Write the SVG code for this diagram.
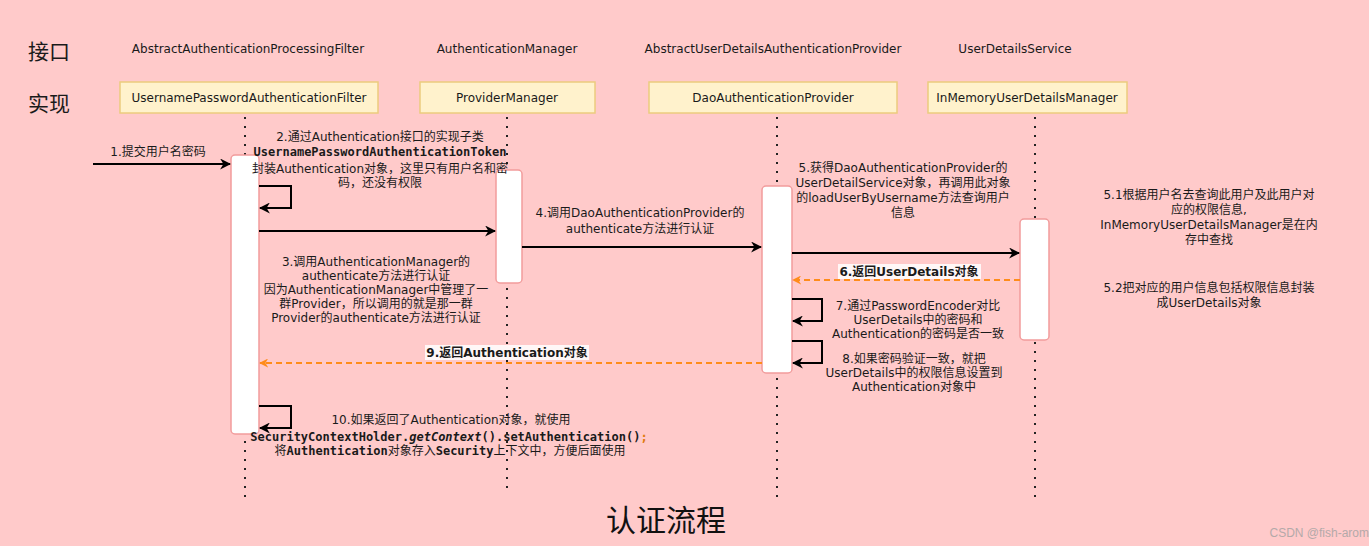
<svg xmlns="http://www.w3.org/2000/svg" width="1369" height="546" viewBox="0 0 1369 546">
<style>
.t{font-family:"DejaVu Sans","Noto Sans CJK SC",sans-serif;font-size:12px;fill:#1a1a1a;text-anchor:middle}
.m{font-family:"DejaVu Sans Mono","Noto Sans CJK SC",monospace;font-weight:bold}
.b{font-weight:bold}
.h{font-family:"Noto Sans CJK SC",sans-serif;font-size:21px;fill:#1a1a1a}
.box{fill:#fff2cc;stroke:#eccb7e;stroke-width:1.5}
.bar{fill:#ffffff;stroke:#f29c9c;stroke-width:1.5}
.life{stroke:#222;stroke-width:2;stroke-dasharray:2 7;fill:none}
.msg{stroke:#000;stroke-width:2;fill:none;marker-end:url(#ah)}
.ret{stroke:#ff8c1a;stroke-width:2;stroke-dasharray:6 4;fill:none;marker-end:url(#ao)}
.lbg{fill:#ffffff;fill-opacity:0.85}
</style>
<defs>
<marker id="ah" viewBox="0 0 10 10" refX="9" refY="5" markerWidth="11" markerHeight="11" markerUnits="userSpaceOnUse" orient="auto"><path d="M0,0 L10,5 L0,10 L3,5z" fill="#000"/></marker>
<marker id="ao" viewBox="0 0 10 10" refX="9" refY="5" markerWidth="9" markerHeight="9" markerUnits="userSpaceOnUse" orient="auto"><path d="M0,0 L10,5 L0,10 L3,5z" fill="#ff8c1a"/></marker>
</defs>
<rect x="0" y="0" width="1369" height="546" fill="#ffcaca"/>

<g id="headers">
<text class="h" x="28" y="59">接口</text>
<text class="h" x="28" y="111">实现</text>
</g>

<g id="lifelines">
<line class="life" x1="245" y1="117" x2="245" y2="497"/>
<line class="life" x1="507" y1="117" x2="507" y2="490"/>
<line class="life" x1="777" y1="117" x2="777" y2="497"/>
<line class="life" x1="1035" y1="117" x2="1035" y2="497"/>
</g>

<g id="node-filter">
<text class="t" x="248" y="53">AbstractAuthenticationProcessingFilter</text>
<rect class="box" x="120" y="82" width="258" height="31"/>
<text class="t" x="249" y="102">UsernamePasswordAuthenticationFilter</text>
<rect class="bar" x="231" y="155" width="28" height="279" rx="4"/>
</g>
<g id="node-manager">
<text class="t" x="507" y="53">AuthenticationManager</text>
<rect class="box" x="420" y="82" width="175" height="31"/>
<text class="t" x="507" y="102">ProviderManager</text>
<rect class="bar" x="496" y="170" width="26" height="113" rx="4"/>
</g>
<g id="node-provider">
<text class="t" x="773" y="53">AbstractUserDetailsAuthenticationProvider</text>
<rect class="box" x="649" y="82" width="248" height="31"/>
<text class="t" x="773" y="102">DaoAuthenticationProvider</text>
<rect class="bar" x="762" y="186" width="30" height="187" rx="4"/>
</g>
<g id="node-userdetails">
<text class="t" x="1015" y="53">UserDetailsService</text>
<rect class="box" x="928" y="82" width="199" height="31"/>
<text class="t" x="1027" y="102">InMemoryUserDetailsManager</text>
<rect class="bar" x="1020" y="219" width="29" height="121" rx="4"/>
</g>

<g id="connectors">
<path class="msg" d="M93,164 H230"/>
<path class="msg" d="M259,186 H291 V208 H260"/>
<path class="msg" d="M259,231 H495"/>
<path class="msg" d="M522,247 H761"/>
<path class="msg" d="M792,253 H1019"/>
<path class="ret" d="M1020,280 H793"/>
<path class="msg" d="M792,299 H822 V321 H793"/>
<path class="msg" d="M792,341 H822 V363 H793"/>
<path class="ret" d="M762,363 H260"/>
<path class="msg" d="M259,406 H291 V428 H260"/>
</g>

<g id="labels">
<text class="t" x="158" y="156">1.提交用户名密码</text>

<text class="t" x="380" y="141">2.通过Authentication接口的实现子类</text>
<text class="t m" x="380" y="156">UsernamePasswordAuthenticationToken</text>
<text class="t" x="380" y="173">封装Authentication对象，这里只有用户名和密</text>
<text class="t" x="380" y="187">码，还没有权限</text>

<text class="t" x="376" y="266">3.调用AuthenticationManager的</text>
<text class="t" x="376" y="280">authenticate方法进行认证</text>
<text class="t" x="376" y="294">因为AuthenticationManager中管理了一</text>
<text class="t" x="376" y="308">群Provider，所以调用的就是那一群</text>
<text class="t" x="376" y="322">Provider的authenticate方法进行认证</text>

<text class="t" x="640" y="217">4.调用DaoAuthenticationProvider的</text>
<text class="t" x="640" y="233">authenticate方法进行认证</text>

<text class="t" x="903" y="172">5.获得DaoAuthenticationProvider的</text>
<text class="t" x="903" y="187">UserDetailService对象，再调用此对象</text>
<text class="t" x="903" y="202">的loadUserByUsername方法查询用户</text>
<text class="t" x="903" y="217">信息</text>

<text class="t" x="1209" y="199">5.1根据用户名去查询此用户及此用户对</text>
<text class="t" x="1209" y="214">应的权限信息,</text>
<text class="t" x="1209" y="229">InMemoryUserDetailsManager是在内</text>
<text class="t" x="1209" y="244">存中查找</text>

<text class="t" x="1209" y="292">5.2把对应的用户信息包括权限信息封装</text>
<text class="t" x="1209" y="307">成UserDetails对象</text>

<rect class="lbg" x="838" y="264" width="143" height="15"/>
<text class="t b" x="909" y="276">6.返回UserDetails对象</text>

<text class="t" x="918" y="310">7.通过PasswordEncoder对比</text>
<text class="t" x="918" y="324">UserDetails中的密码和</text>
<text class="t" x="918" y="338">Authentication的密码是否一致</text>

<text class="t" x="914" y="363">8.如果密码验证一致，就把</text>
<text class="t" x="914" y="377">UserDetails中的权限信息设置到</text>
<text class="t" x="914" y="391">Authentication对象中</text>

<rect class="lbg" x="425" y="345" width="164" height="15"/>
<text class="t b" x="507" y="357">9.返回Authentication对象</text>

<text class="t" x="451" y="424">10.如果返回了Authentication对象，就使用</text>
<text class="t m" x="449" y="441">SecurityContextHolder.<tspan font-style="italic">getContext</tspan>().setAuthentication()<tspan fill="#e07b10">;</tspan></text>
<text class="t" x="450" y="455">将<tspan class="m">Authentication</tspan>对象存入<tspan class="m">Security</tspan>上下文中，方便后面使用</text>
</g>

<g id="title">
<text x="666" y="531" style="font-family:'Noto Sans CJK SC',sans-serif;font-size:30px;fill:#111;text-anchor:middle">认证流程</text>
<text x="1369" y="537" style="font-family:'Liberation Sans',sans-serif;font-size:12px;fill:#b4a9a9;text-anchor:end">CSDN @fish-arom</text>
</g>
</svg>
